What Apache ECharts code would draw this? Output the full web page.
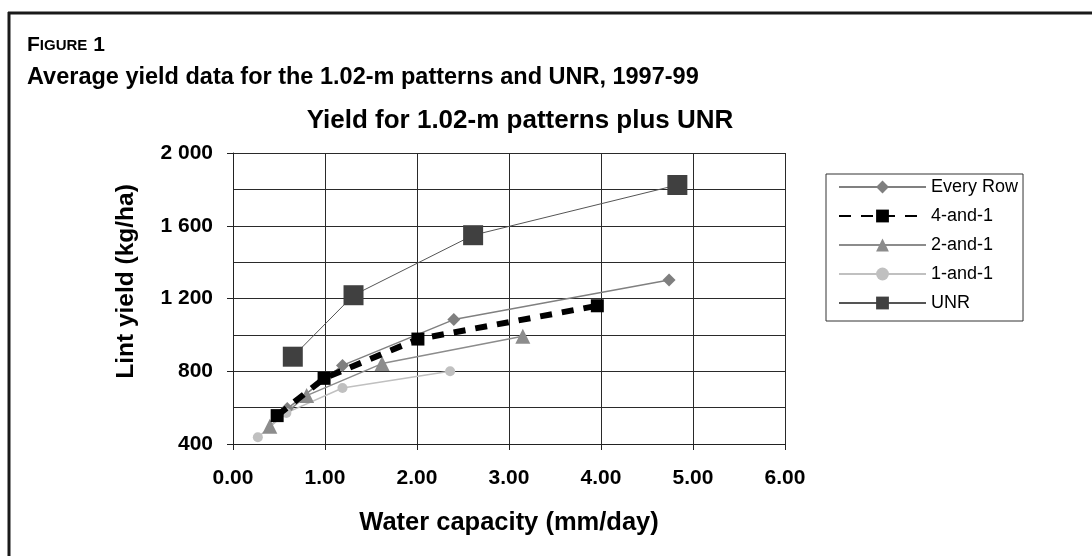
<!DOCTYPE html>
<html>
<head>
<meta charset="utf-8">
<script src="https://cdn.jsdelivr.net/npm/echarts@6/dist/echarts.min.js"></script>
<style>
	html, body { margin: 0; padding: 0; background: #fff; }
	#chart-1 { width: 1092px; height: 556px; }
</style>
</head>
<body>
<div id="chart-1"></div>
<script>
// water capacity (mm/day) and lint yield (kg/ha)
var everyRowX = [0.59, 1.19, 2.40, 4.74];
var everyRowY = [595, 832, 1084, 1302];
var fourAndOneX = [0.48, 0.99, 2.01, 3.96];
var fourAndOneY = [556, 761, 977, 1160];
var twoAndOneX = [0.40, 0.80, 1.62, 3.15];
var twoAndOneY = [497, 666, 842, 992];
var oneAndOneX = [0.27, 0.58, 1.19, 2.36];
var oneAndOneY = [437, 571, 708, 800];
var unrX = [0.65, 1.31, 2.61, 4.83];
var unrY = [880, 1218, 1548, 1824];

var seriesNames = ['Every Row', '4-and-1', '2-and-1', '1-and-1', 'UNR'];
var xTicks = [0, 1, 2, 3, 4, 5, 6];
var yTicks = [400, 800, 1200, 1600, 2000];

var font = '"Liberation Sans", Arial, sans-serif';

function pairs(xs, ys) {
	var out = [];
	for (var i = 0; i < xs.length; i++) {
		out.push([xs[i], ys[i]]);
	}
	return out;
}

var myChart = echarts.init(document.getElementById('chart-1'));

var option = {
	backgroundColor: '#fff',
	animation: false,
	textStyle: { fontFamily: font, color: '#000' },
	title: [{
		text: '{a|F}{b|IGURE}{a| 1}',
		left: 22,
		top: 30,
		textStyle: {
			rich: {
				a: { fontFamily: font, fontSize: 21, fontWeight: 'bold', color: '#000' },
				b: { fontFamily: font, fontSize: 15, fontWeight: 'bold', color: '#000' }
			}
		}
	}, {
		text: 'Average yield data for the 1.02-m patterns and UNR, 1997-99',
		left: 22,
		top: 61,
		textStyle: { fontFamily: font, fontSize: 23.5, fontWeight: 'bold', color: '#000' }
	}, {
		text: 'Yield for 1.02-m patterns plus UNR',
		left: 515,
		top: 103,
		textAlign: 'center',
		textStyle: { fontFamily: font, fontSize: 26, fontWeight: 'bold', color: '#000' }
	}],
	legend: {
		data: seriesNames,
		orient: 'vertical',
		left: 826,
		top: 174,
		padding: [4, 5, 9, 12],
		itemWidth: 87,
		itemHeight: 16,
		itemGap: 11,
		borderColor: '#333',
		borderWidth: 1,
		textStyle: { fontFamily: font, fontSize: 18, color: '#000' }
	},
	graphic: [{
		type: 'line',
		shape: { x1: 8, y1: 13, x2: 1092, y2: 13 },
		style: { stroke: '#1a1a1a', lineWidth: 3 }
	}, {
		type: 'line',
		shape: { x1: 9, y1: 12, x2: 9, y2: 556 },
		style: { stroke: '#1a1a1a', lineWidth: 3 }
	}],
	grid: {
		left: 233,
		right: 307,
		top: 153,
		bottom: 112
	},
	xAxis: {
		type: 'value',
		min: xTicks[0],
		max: xTicks[xTicks.length - 1],
		interval: 1,
		name: 'Water capacity (mm/day)',
		nameLocation: 'middle',
		nameGap: 66,
		nameTextStyle: { fontFamily: font, fontSize: 25.5, fontWeight: 'bold', color: '#000' },
		axisLine: { lineStyle: { color: '#222', width: 1 } },
		axisTick: { show: true, length: 6, lineStyle: { color: '#222' } },
		splitLine: { show: true, lineStyle: { color: '#2a2a2a', width: 1 } },
		axisLabel: {
			margin: 24,
			fontFamily: font,
			fontSize: 21,
			fontWeight: 'bold',
			color: '#000',
			formatter: function(v) { return v.toFixed(2); }
		}
	},
	yAxis: {
		type: 'value',
		min: yTicks[0],
		max: yTicks[yTicks.length - 1],
		interval: 400,
		name: 'Lint yield (kg/ha)',
		nameLocation: 'middle',
		nameRotate: 90,
		nameGap: 94,
		nameTextStyle: { fontFamily: font, fontSize: 24.5, fontWeight: 'bold', color: '#000', padding: [0, 0, 0, 34] },
		axisLine: { show: true, lineStyle: { color: '#222', width: 1 } },
		axisTick: { show: true, length: 6, lineStyle: { color: '#222' } },
		minorTick: { show: false, splitNumber: 2 },
		minorSplitLine: { show: true, lineStyle: { color: '#2a2a2a', width: 1 } },
		splitLine: { show: true, lineStyle: { color: '#2a2a2a', width: 1 } },
		axisLabel: {
			margin: 20,
			fontFamily: font,
			fontSize: 21,
			fontWeight: 'bold',
			color: '#000',
			formatter: function(v) { return String(v).replace(/\B(?=(\d{3})+(?!\d))/g, ' '); }
		}
	},
	series: [{
		name: 'Every Row',
		type: 'line',
		data: pairs(everyRowX, everyRowY),
		symbol: 'diamond',
		symbolSize: 13,
		itemStyle: { color: '#7f7f7f' },
		lineStyle: { color: '#808080', width: 1.5 },
		z: 3
	}, {
		name: '4-and-1',
		type: 'line',
		data: pairs(fourAndOneX, fourAndOneY),
		symbol: 'rect',
		symbolSize: 13,
		itemStyle: { color: '#000' },
		lineStyle: { color: '#000', width: 6, type: [12, 10] },
		z: 4
	}, {
		name: '2-and-1',
		type: 'line',
		data: pairs(twoAndOneX, twoAndOneY),
		symbol: 'triangle',
		symbolSize: 15,
		itemStyle: { color: '#8c8c8c' },
		lineStyle: { color: '#8c8c8c', width: 1.5 },
		z: 3
	}, {
		name: '1-and-1',
		type: 'line',
		data: pairs(oneAndOneX, oneAndOneY),
		symbol: 'circle',
		symbolSize: 10,
		itemStyle: { color: '#c0c0c0' },
		lineStyle: { color: '#c0c0c0', width: 1.5 },
		z: 3
	}, {
		name: 'UNR',
		type: 'line',
		data: pairs(unrX, unrY),
		symbol: 'rect',
		symbolSize: 20,
		itemStyle: { color: '#404040' },
		lineStyle: { color: '#555', width: 1 },
		z: 5
	}]
};

myChart.setOption(option);
</script>
</body>
</html>
